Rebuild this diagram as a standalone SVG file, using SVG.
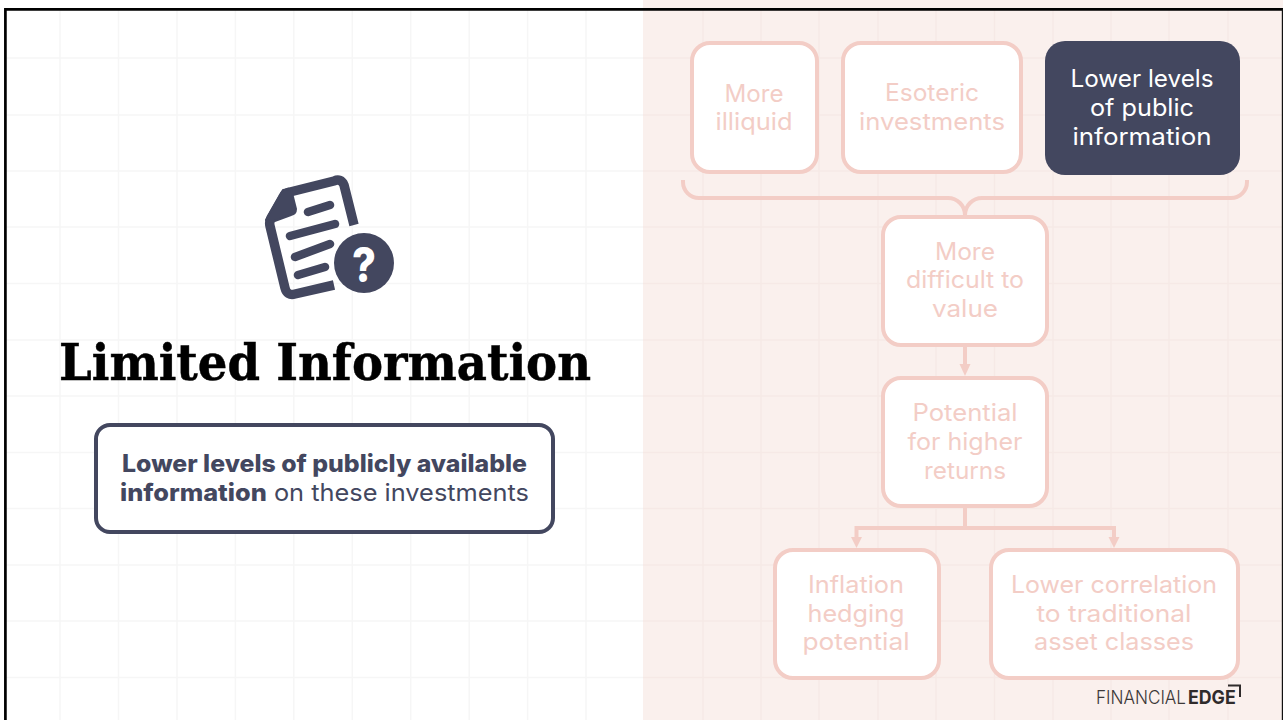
<svg xmlns="http://www.w3.org/2000/svg" width="1283" height="720" viewBox="0 0 1283 720">
<style>
.gl{stroke:#f6f6f6;stroke-width:1.5;fill:none}
.gr{stroke:#f6e9e6;stroke-width:1.5;fill:none}
.box{fill:#fff;stroke:#f3cdc6;stroke-width:4}
.t{font-family:"Inter","Open Sans",sans-serif;font-size:24px;fill:#f3cdc6;text-anchor:middle}
.c{fill:none;stroke:#f3cdc6;stroke-width:4}
.s{fill:none;stroke:#43475f;stroke-linecap:round}
</style>
<rect width="1283" height="720" fill="#fff"/>
<rect x="643" width="640" height="720" fill="#faf0ed"/>
<path class="gl" d="M60 10V720M118.500 10V720M177 10V720M235.400 10V720M293.800 10V720M352.300 10V720M410.700 10V720M469.200 10V720M527.600 10V720M586 10V720M6 58H643M6 115H643M6 171H643M6 227H643M6 283.500H643M6 340H643M6 396H643M6 452.500H643M6 508.500H643M6 565H643M6 621H643M6 677.500H643"/>
<path class="gr" d="M703 10V720M761 10V720M819 10V720M878 10V720M936 10V720M994.500 10V720M1053 10V720M1111 10V720M1169 10V720M1228 10V720M643 58H1283M643 115H1283M643 171H1283M643 227H1283M643 283.500H1283M643 340H1283M643 396H1283M643 452.500H1283M643 508.500H1283M643 565H1283M643 621H1283M643 677.500H1283"/>
<path d="M5.400 720V9.300H1283" fill="none" stroke="#000" stroke-width="2.700"/>
<path d="M1282.400 9V720" fill="none" stroke="#111" stroke-width="1.200"/>
<g id="connectors">
<path class="c" d="M683 180V182a16 16 0 0 0 16 16H948a17 17 0 0 1 17 17a17 17 0 0 1 17-17H1231a16 16 0 0 0 16-16V180"/>
<path class="c" d="M965 347V366"/>
<path d="M959.500 364H970.500L965 376Z" fill="#f3cdc6"/>
<path class="c" d="M965 507V528M856.500 538V528H1114V538"/>
<path d="M851 537H862L856.500 548Z" fill="#f3cdc6"/>
<path d="M1108.500 537H1119.500L1114 548Z" fill="#f3cdc6"/>
</g>
<g id="icon">
<path d="M354 225L344 185Q341 178 334 181L290 192Q285 193 283 197L271 218Q269 222 270 226L285 288Q287 296 295 294L334 285" fill="none" stroke="#43475f" stroke-width="9.500" stroke-linejoin="round"/>
<path d="M266 220L283 190L291 189L296 209Q296 214 291 215L272 222Z" fill="#43475f" stroke="#43475f" stroke-width="2" stroke-linejoin="round"/>
<path class="s" stroke-width="8.500" d="M308 212L330 205M290 236L335 224M295 257L330 244M298 275L325 267"/>
<circle cx="364" cy="263" r="30" fill="#43475f"/>
<text x="364" y="282" font-family="Inter,sans-serif" font-weight="800" font-size="48" fill="#fff" text-anchor="middle" textLength="24" lengthAdjust="spacingAndGlyphs">?</text>
</g>
<g id="title"><text x="325" y="379.500" font-family="DejaVu Serif,serif" font-weight="700" font-size="51" fill="#000" stroke="#000" stroke-width="0.500" text-anchor="middle" textLength="532" lengthAdjust="spacingAndGlyphs">Limited Information</text></g>
<g id="summary">
<rect x="96" y="425" width="457" height="107" rx="14" fill="#fff" stroke="#43475f" stroke-width="4"/>
<text x="324.500" y="472" font-family="Inter,sans-serif" font-size="24" font-weight="800" fill="#43475f" text-anchor="middle" textLength="405" lengthAdjust="spacingAndGlyphs">Lower levels of publicly available</text>
<text x="120" y="501" font-family="Inter,sans-serif" font-size="24" fill="#43475f" textLength="409" lengthAdjust="spacingAndGlyphs"><tspan font-weight="800">information</tspan> on these investments</text>
</g>
<g id="n1"><rect class="box" x="692" y="43" width="125" height="129" rx="18"/><text class="t" x="754" y="102" textLength="59" lengthAdjust="spacingAndGlyphs">More</text><text class="t" x="754" y="130" textLength="77" lengthAdjust="spacingAndGlyphs">illiquid</text></g>
<g id="n2"><rect class="box" x="843" y="43" width="178" height="129" rx="18"/><text class="t" x="932" y="101" textLength="94" lengthAdjust="spacingAndGlyphs">Esoteric</text><text class="t" x="932" y="130" textLength="146" lengthAdjust="spacingAndGlyphs">investments</text></g>
<g id="n3"><rect x="1045" y="41" width="195" height="134" rx="20" fill="#43475f"/><text class="t" x="1142" y="87" style="fill:#fff" textLength="143" lengthAdjust="spacingAndGlyphs">Lower levels</text><text class="t" x="1142" y="116" style="fill:#fff" textLength="104" lengthAdjust="spacingAndGlyphs">of public</text><text class="t" x="1142" y="145" style="fill:#fff" textLength="139" lengthAdjust="spacingAndGlyphs">information</text></g>
<g id="n4"><rect class="box" x="883" y="217" width="164" height="128" rx="18"/><text class="t" x="965" y="260" textLength="60" lengthAdjust="spacingAndGlyphs">More</text><text class="t" x="965" y="288" textLength="118" lengthAdjust="spacingAndGlyphs">difficult to</text><text class="t" x="965" y="317" textLength="66" lengthAdjust="spacingAndGlyphs">value</text></g>
<g id="n5"><rect class="box" x="883" y="378" width="164" height="128" rx="18"/><text class="t" x="965" y="421" textLength="105" lengthAdjust="spacingAndGlyphs">Potential</text><text class="t" x="965" y="450" textLength="115" lengthAdjust="spacingAndGlyphs">for higher</text><text class="t" x="965" y="479" textLength="82" lengthAdjust="spacingAndGlyphs">returns</text></g>
<g id="n6"><rect class="box" x="775" y="550" width="164" height="128" rx="18"/><text class="t" x="856" y="593" textLength="96" lengthAdjust="spacingAndGlyphs">Inflation</text><text class="t" x="856" y="622" textLength="97" lengthAdjust="spacingAndGlyphs">hedging</text><text class="t" x="856" y="650" textLength="107" lengthAdjust="spacingAndGlyphs">potential</text></g>
<g id="n7"><rect class="box" x="991" y="550" width="247" height="128" rx="18"/><text class="t" x="1114" y="593" textLength="206" lengthAdjust="spacingAndGlyphs">Lower correlation</text><text class="t" x="1114" y="622" textLength="155" lengthAdjust="spacingAndGlyphs">to traditional</text><text class="t" x="1114" y="650" textLength="160" lengthAdjust="spacingAndGlyphs">asset classes</text></g>
<g id="logo"><text transform="translate(1096 704) scale(.9 1)" font-family="Inter,sans-serif" font-size="19" fill="#3c3838" font-weight="300" textLength="100" lengthAdjust="spacingAndGlyphs">FINANCIAL</text><text transform="translate(1188 704) scale(.9 1)" font-family="Inter,sans-serif" font-size="19" fill="#2f2b2b" font-weight="700" textLength="53" lengthAdjust="spacingAndGlyphs">EDGE</text><path d="M1228 685.500H1240V697" fill="none" stroke="#2f2b2b" stroke-width="2"/></g>
</svg>
